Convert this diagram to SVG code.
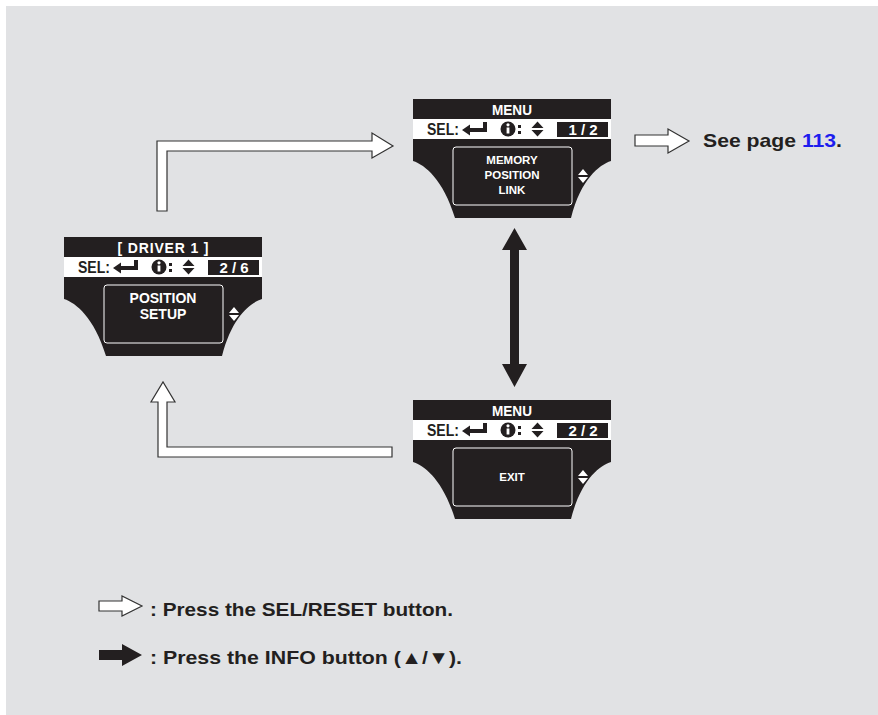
<svg xmlns="http://www.w3.org/2000/svg" xmlns:xlink="http://www.w3.org/1999/xlink" width="878" height="715" viewBox="0 0 878 715">
<style>
.hdr{font-family:"Liberation Sans",Arial,sans-serif;font-weight:bold;font-size:14px;fill:#fff;text-anchor:middle}
.sel{font-family:"Liberation Sans",Arial,sans-serif;font-weight:bold;font-size:17px;fill:#231f20}
.pg{font-family:"Liberation Sans",Arial,sans-serif;font-weight:bold;font-size:15px;fill:#fff;text-anchor:middle}
.inner{font-family:"Liberation Sans",Arial,sans-serif;font-weight:bold;font-size:11.5px;fill:#fff;text-anchor:middle}
.inner2{font-family:"Liberation Sans",Arial,sans-serif;font-weight:bold;font-size:14px;fill:#fff;text-anchor:middle}
.lbl{font-family:"Liberation Sans",Arial,sans-serif;font-weight:bold;font-size:19px;fill:#231f20}
.hollow{fill:#fff;stroke:#333;stroke-width:1.2;stroke-linejoin:miter}
.solid{fill:#231f20;stroke:none}
</style>
<defs>
<g id="screen">
<rect x="0" y="0" width="198" height="20" fill="#231f20"/>
<rect x="0" y="20" width="198" height="20" fill="#fff"/>
<path d="M0,40 H198 V62 C186,66 168,80 158,119 H42 C30,80 12,66 0,62 Z" fill="#231f20"/>
<rect x="40" y="48" width="119" height="58" rx="3" fill="none" stroke="#fff" stroke-width="1"/>
<path d="M165,76 L170,70 L175,76 Z M165,78 L175,78 L170,84 Z" fill="#fff"/>
<path d="M49,31 L57,25.5 V29 H70 V23 H74 V33 H57 V36.5 Z" fill="#231f20"/>
<circle cx="95" cy="30" r="7.5" fill="#231f20"/>
<rect x="93.6" y="28.5" width="2.8" height="6" fill="#fff"/>
<circle cx="95" cy="25.8" r="1.6" fill="#fff"/>
<rect x="105" y="26" width="3" height="3" fill="#231f20"/>
<rect x="105" y="32" width="3" height="3" fill="#231f20"/>
<path d="M118.5,29 L124.5,22.5 L130.5,29 Z M118.5,31 L130.5,31 L124.5,37.5 Z" fill="#231f20"/>
<rect x="144" y="23" width="51" height="15" fill="#231f20"/>
<text class="sel" x="14" y="36" textLength="32" lengthAdjust="spacingAndGlyphs">SEL:</text>
</g>
</defs>
<rect x="6" y="6" width="872" height="709" fill="#e1e2e4"/>
<g id="connectors">
<path class="hollow" d="M157,211 V141 H372 V133 L393,146 L372,158 V151 H167 V211 Z"/>
<path class="hollow" d="M392,447 H167 V402 H175 L163,382 L151,402 H158 V457 H392 Z"/>
<path class="solid" d="M514.5,228 L527,250 H519 V364 H527 L514.5,387 L502,364 H510 V250 H502 Z"/>
<path class="hollow" d="M635,135 H668 V129 L689,141 L668,153 V146 H635 Z"/>
</g>
<g id="menu1">
<use xlink:href="#screen" href="#screen" x="413" y="99"/>
<text class="hdr" x="512" y="115" textLength="40" lengthAdjust="spacingAndGlyphs">MENU</text>
<text class="pg" x="583" y="135" textLength="29" lengthAdjust="spacing">1/2</text>
<text class="inner" x="512" y="164">MEMORY</text>
<text class="inner" x="512" y="179">POSITION</text>
<text class="inner" x="512" y="194">LINK</text>
</g>
<g id="driver">
<use xlink:href="#screen" href="#screen" x="64" y="237"/>
<text class="hdr" x="163" y="253" textLength="91" lengthAdjust="spacing">[ DRIVER 1 ]</text>
<text class="pg" x="234" y="273" textLength="29" lengthAdjust="spacing">2/6</text>
<text class="inner2" x="163" y="303">POSITION</text>
<text class="inner2" x="163" y="319">SETUP</text>
</g>
<g id="menu2">
<use xlink:href="#screen" href="#screen" x="413" y="400"/>
<text class="hdr" x="512" y="416" textLength="40" lengthAdjust="spacingAndGlyphs">MENU</text>
<text class="pg" x="583" y="436" textLength="29" lengthAdjust="spacing">2/2</text>
<text class="inner" x="512" y="481">EXIT</text>
</g>
<g id="seepage">
<text class="lbl" x="703" y="147" textLength="139" lengthAdjust="spacingAndGlyphs">See page <tspan fill="#1d1dee">113</tspan>.</text>
</g>
<g id="legend">
<path class="hollow" d="M99,601 H122 V596 L142,606 L122,616 V611 H99 Z"/>
<path class="solid" d="M99,650 H122 V644 L142,655 L122,666 V660 H99 Z"/>
<text class="lbl" x="150" y="616" textLength="303" lengthAdjust="spacingAndGlyphs">: Press the SEL/RESET button.</text>
<text class="lbl" x="150" y="664" textLength="312" lengthAdjust="spacingAndGlyphs">: Press the INFO button (▲/▼).</text>
</g>
</svg>
